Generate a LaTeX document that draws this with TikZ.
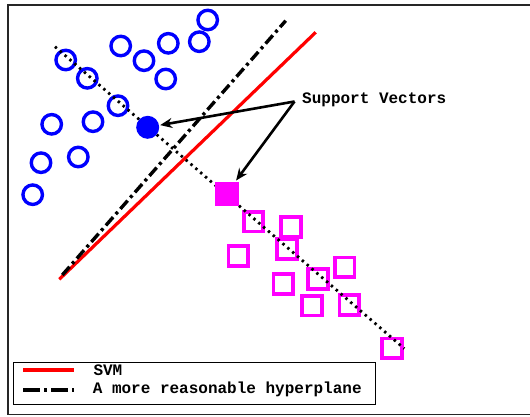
\documentclass[tikz,border=0pt]{standalone}
\usepackage{fontspec}
\setmonofont{Liberation Mono}
\usetikzlibrary{arrows.meta}
\definecolor{ptblue}{RGB}{0,0,255}
\definecolor{ptmag}{RGB}{255,0,255}
\definecolor{ptred}{RGB}{255,0,0}
\begin{document}
\begin{tikzpicture}[x=1pt,y=-1pt,
  posdot/.style={circle,draw=ptblue,line width=3.4pt,minimum size=19.5pt,inner sep=0pt},
  negbox/.style={rectangle,draw=ptmag,line width=3.6pt,minimum size=19.5pt,inner sep=0pt},
  posvec/.style={circle,fill=ptblue,minimum size=23pt,inner sep=0pt},
  negvec/.style={rectangle,fill=ptmag,minimum size=24pt,inner sep=0pt},
  svmline/.style={draw=ptred,line width=3.2pt},
  altline/.style={draw=black,line width=3.4pt,dash pattern=on 11pt off 4pt on 3pt off 4pt},
  margline/.style={draw=black,line width=2.8pt,dash pattern=on 2.4pt off 4pt},
  callout/.style={draw=black,line width=2.6pt,-{Stealth[length=12pt,width=10pt]},shorten >=1pt},
  lbl/.style={font=\fontsize{16}{18}\selectfont\ttfamily\bfseries,inner sep=0pt}
]
\useasboundingbox (0,0) rectangle (530,416);
\fill[white] (0,0) rectangle (530,416);
\draw[line width=1.6pt,black!85] (540,5) -- (8,5) -- (8,414.3) -- (540,414.3);

% hollow circles
\foreach \n/\x/\y in {c1/207.7/20, c2/199.3/41.7, c3/168.3/43.3, c4/120.7/46, c5/144/60.7,
  c6/65.7/60, c7/87.3/78.3, c8/165.7/79, c9/118/105.7, c10/51.7/124.3, c11/93/121.7,
  c12/78.3/157, c13/41/162.7, c14/32.7/194.7}
  \node[posdot] (\n) at (\x,\y) {};
% hollow squares
\foreach \n/\x/\y in {s1/253.5/221.7, s2/238.3/256, s3/291/227, s4/287/249, s5/318/279,
  s6/344.7/267.3, s7/283.3/284, s8/312/305.7, s9/349.3/305, s10/392/348.3}
  \node[negbox] (\n) at (\x,\y) {};

% margin line (dotted)
\coordinate (m1) at (55,46.7);
\coordinate (m2) at (404.3,348.6);
\draw[margline] (m1) -- (m2);

% support vectors
\node[posvec] (svc) at (147.7,127.3) {};
\node[negvec] (svs) at (226.5,193.5) {};

% hyperplanes
\coordinate (r1) at (59.3,279.3);
\coordinate (r2) at (315.7,32.3);
\draw[svmline] (r1) -- (r2);
\coordinate (a1) at (62.3,275);
\coordinate (a2) at (285.7,20.7);
\draw[altline] (a1) -- (a2);

% label and arrows
\node[lbl,anchor=base west] (svl) at (302,103.5) {Support Vectors};
\coordinate (svpt) at (294.5,101.5);
\draw[callout] (svpt) -- (svc);
\draw[callout] (svpt) -- (svs);

% legend
\node[draw=black,line width=0.9pt,inner sep=0pt,minimum width=361.7pt,minimum height=42.3pt,anchor=north west] (leg) at (13.3,361.7) {};
\coordinate (l1a) at (23.3,370);
\coordinate (l1b) at (74,370);
\coordinate (l2a) at (23.3,390);
\coordinate (l2b) at (74,390);
\draw[svmline] (l1a) -- (l1b);
\draw[altline,dash pattern=on 17pt off 4pt on 3pt off 4pt] (l2a) -- (l2b);
\node[lbl,anchor=base west] (t1) at (93.3,375.6) {SVM};
\node[lbl,anchor=base west] (t2) at (92.6,393.4) {A more reasonable hyperplane};
\end{tikzpicture}
\end{document}
